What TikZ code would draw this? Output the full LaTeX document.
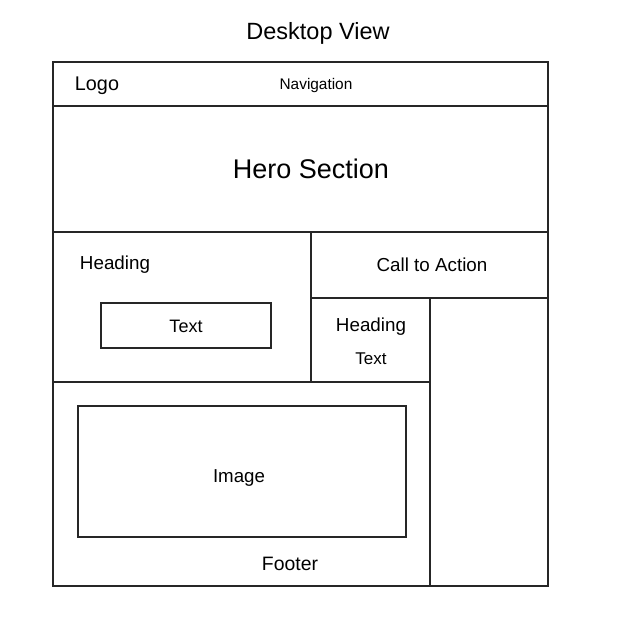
\documentclass[tikz,border=0pt]{standalone}
\usepackage{fontspec}
\setmainfont{Liberation Sans}
\begin{document}
\begin{tikzpicture}[x=1pt,y=-1pt,
  box/.style={draw=black!85,line width=1.1pt},
  lbl/.style={inner sep=0pt,anchor=center,text=black,yshift=-1pt},
  ln/.style={draw=black!85,line width=1.1pt}]
\useasboundingbox[fill=white] (0,0) rectangle (617,619);
\node[lbl,font=\fontsize{23.5}{28}\selectfont] (title) at (318,32) {Desktop View};
\draw[box] (53,62) rectangle (548,586);
\coordinate (nl) at (53,106); \coordinate (nr) at (548,106);
\draw[ln] (nl) -- (nr);
\coordinate (hl) at (53,232); \coordinate (hr) at (548,232);
\draw[ln] (hl) -- (hr);
\coordinate (v1t) at (311,232); \coordinate (v1b) at (311,382);
\draw[ln] (v1t) -- (v1b);
\coordinate (c1l) at (311,298); \coordinate (c1r) at (548,298);
\draw[ln] (c1l) -- (c1r);
\coordinate (v2t) at (430,298); \coordinate (v2b) at (430,586);
\draw[ln] (v2t) -- (v2b);
\coordinate (fl) at (53,382); \coordinate (fr) at (430,382);
\draw[ln] (fl) -- (fr);
\draw[box] (101,303) rectangle (271,348);
\draw[box] (78,406) rectangle (406,537);
\node[lbl,font=\fontsize{19.8}{24}\selectfont] (logo) at (97,85) {Logo};
\node[lbl,font=\fontsize{15.4}{18}\selectfont] (nav) at (316,85) {Navigation};
\node[lbl,font=\fontsize{27}{32}\selectfont] (hero) at (311,168) {Hero Section};
\node[lbl,font=\fontsize{18.8}{22}\selectfont] (h1) at (115,264) {Heading};
\node[lbl,font=\fontsize{18.8}{22}\selectfont] (cta) at (432,264) {Call to Action};
\node[lbl,font=\fontsize{18}{21}\selectfont] (t1) at (186,325) {Text};
\node[lbl,font=\fontsize{18.8}{22}\selectfont] (h2) at (371,326) {Heading};
\node[lbl,font=\fontsize{17}{20}\selectfont] (t2) at (371,358) {Text};
\node[lbl,font=\fontsize{18.7}{22}\selectfont] (img) at (239,477) {Image};
\node[lbl,font=\fontsize{19.4}{23}\selectfont] (foot) at (290,563) {Footer};
\end{tikzpicture}
\end{document}
